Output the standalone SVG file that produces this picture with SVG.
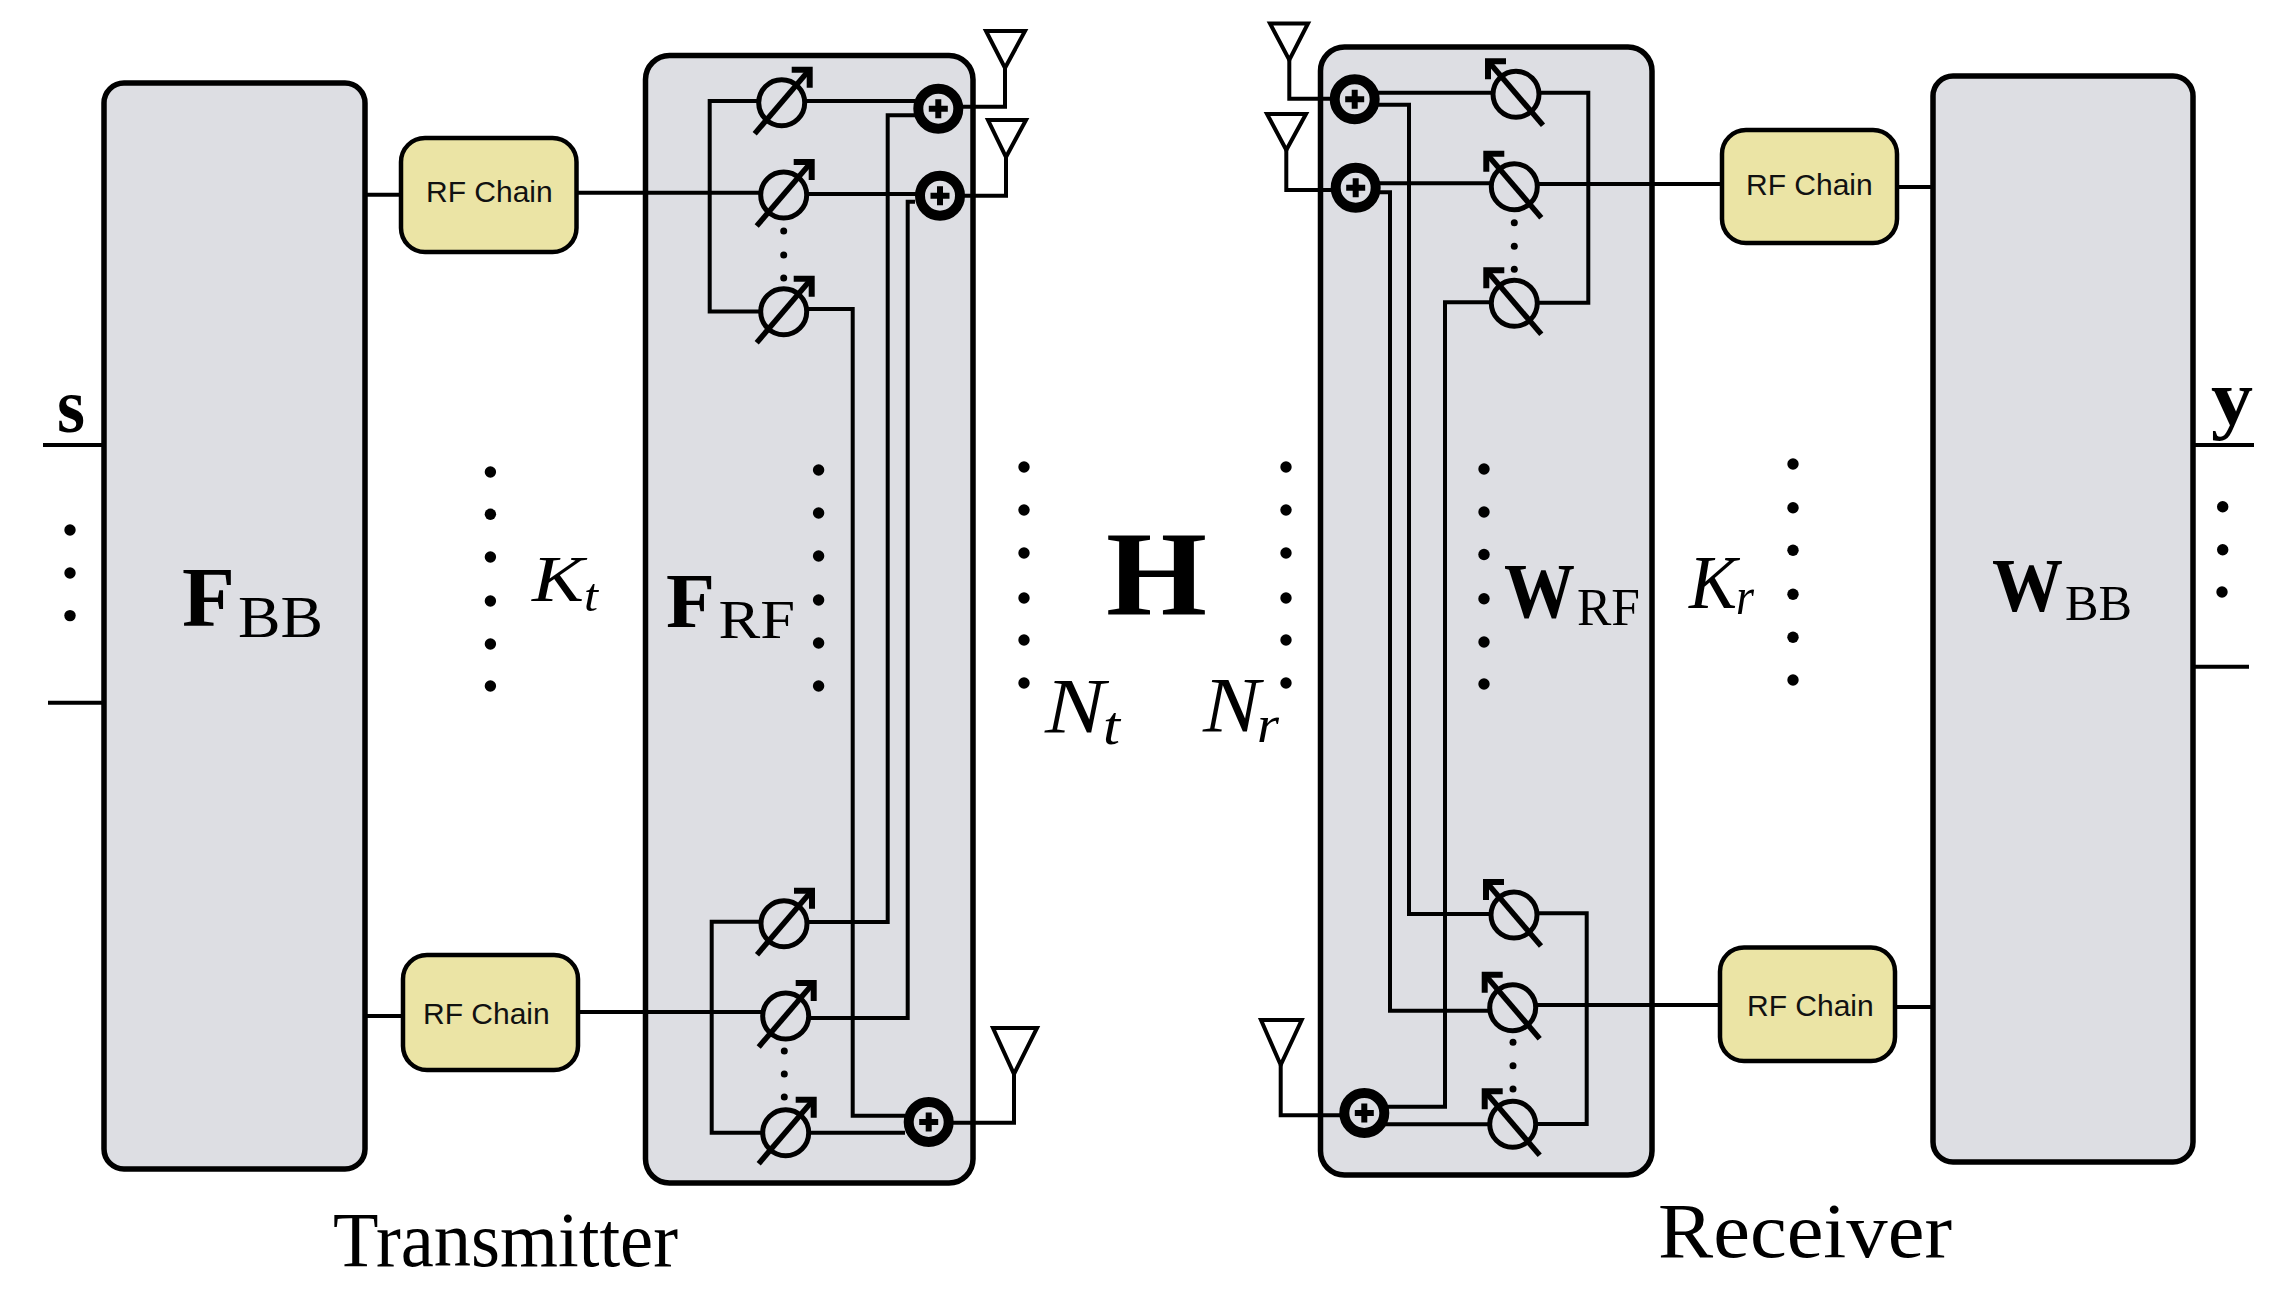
<svg xmlns="http://www.w3.org/2000/svg" xmlns:xlink="http://www.w3.org/1999/xlink" width="2289" height="1292" viewBox="0 0 2289 1292">
<style>
.box{fill:#dddee3;stroke:#000;stroke-width:5.5}
.rf{fill:#ebe4a5;stroke:#000;stroke-width:4.5}
.w{fill:none;stroke:#000;stroke-width:4}
.ant{fill:none;stroke:#000;stroke-width:4;stroke-linejoin:miter}
.rft{font-family:"Liberation Sans",Arial,sans-serif;font-size:30px;fill:#111}
.m{font-family:"Liberation Serif","Times New Roman",serif;fill:#000}
.b{font-weight:bold}
.i{font-style:italic}
.dot{fill:#000}
</style>
<defs>
<g id="shifter">
<circle r="23" fill="#dddee3" stroke="#000" stroke-width="5"/>
<line x1="-27" y1="31" x2="26" y2="-31" stroke="#000" stroke-width="5.5"/>
<polyline points="10,-33 28,-33 28,-15" fill="none" stroke="#000" stroke-width="6"/>
</g>
<g id="summer">
<circle r="20" fill="#dddee3" stroke="#000" stroke-width="10"/>
<path d="M-9.5 0H9.5M0 -9.5V9.5" stroke="#000" stroke-width="6" fill="none"/>
</g>
<circle id="d" r="5.7" class="dot"/>
<circle id="ds" r="3.5" class="dot"/>
</defs>
<rect width="2289" height="1292" fill="#fff"/>
<g id="FBB"><rect class="box" x="104" y="83" width="261" height="1086" rx="20"/></g>
<g id="FRF"><rect class="box" x="645.5" y="55.5" width="327.5" height="1127.5" rx="24"/></g>
<g id="WRF"><rect class="box" x="1320.5" y="47" width="331.5" height="1128" rx="24"/></g>
<g id="WBB"><rect class="box" x="1933" y="76" width="260" height="1086" rx="20"/></g>
<g id="connectors">
<path class="w" d="M43 445H104M48 702.7H104M2193 445H2254M2193 666.7H2249"/>
<path class="w" d="M365 194.7H401M577 192.7H783M366 1016H403M578 1012H785"/>
<path class="w" d="M784 311.5H709.7V101H915M784 309H852.7V1115.7H905M785 1132.7H905"/>
<path class="w" d="M915 115.3H887.7V922H784M940 194H784M915 201.700H907.7V1018H785"/>
<path class="w" d="M785 921.7H711.7V1132.7H785"/>
<path class="w" d="M960 106.7H1005V68M962 195.7H1006V157M950 1122.7H1014V1074"/>
<path class="w" d="M1355 92.7H1588.3V302.7H1514M1375 104.7H1409V914H1514"/>
<path class="w" d="M1289.3 60V98.7H1335M1286.3 150V190H1335M1280.7 1065V1115.3H1345"/>
<path class="w" d="M1356 183.3H1514M1514 184H1722M1375 192.3H1390V1010.7H1512M1514 302.3H1445V1106.7H1380M1364 1124.3H1513"/>
<path class="w" d="M1514 913.3H1586.7V1124H1513M1512 1005H1720M1895 1007H1933M1897 187H1933"/>
</g>
<g id="ant-t1"><polygon class="ant" points="986,31 1025,31 1005,68"/></g>
<g id="ant-t2"><polygon class="ant" points="988,120 1026,120 1006,157"/></g>
<g id="ant-t3"><polygon class="ant" points="993,1028 1037,1028 1014,1074"/></g>
<g id="ant-r1"><polygon class="ant" points="1270,23.5 1308,23.5 1289.3,60"/></g>
<g id="ant-r2"><polygon class="ant" points="1267,114 1306,114 1286.3,150"/></g>
<g id="ant-r3"><polygon class="ant" points="1261,1020 1301.7,1020 1280.7,1065"/></g>
<g id="rf-t1"><rect class="rf" x="401" y="138" width="175.500" height="114" rx="24"/><text class="rft" x="426" y="202">RF Chain</text></g>
<g id="rf-t2"><rect class="rf" x="403" y="955" width="175" height="115" rx="24"/><text class="rft" x="423" y="1024">RF Chain</text></g>
<g id="rf-r1"><rect class="rf" x="1722" y="130" width="175" height="113" rx="24"/><text class="rft" x="1746" y="195">RF Chain</text></g>
<g id="rf-r2"><rect class="rf" x="1720" y="947.5" width="175" height="113.500" rx="24"/><text class="rft" x="1747" y="1016">RF Chain</text></g>
<g id="ps-t1"><use href="#shifter" transform="translate(781.7 102.7)"/></g>
<g id="ps-t2"><use href="#shifter" transform="translate(783.7 195)"/></g>
<g id="ps-t3"><use href="#shifter" transform="translate(783.7 311.7)"/></g>
<g id="ps-t4"><use href="#shifter" transform="translate(784 923.7)"/></g>
<g id="ps-t5"><use href="#shifter" transform="translate(785.7 1016)"/></g>
<g id="ps-t6"><use href="#shifter" transform="translate(785.7 1132.7)"/></g>
<g id="ps-r1"><use href="#shifter" transform="translate(1516 94.3) scale(-1 1)"/></g>
<g id="ps-r2"><use href="#shifter" transform="translate(1514.3 186.7) scale(-1 1)"/></g>
<g id="ps-r3"><use href="#shifter" transform="translate(1514.3 303.3) scale(-1 1)"/></g>
<g id="ps-r4"><use href="#shifter" transform="translate(1514 915) scale(-1 1)"/></g>
<g id="ps-r5"><use href="#shifter" transform="translate(1512.7 1007.7) scale(-1 1)"/></g>
<g id="ps-r6"><use href="#shifter" transform="translate(1512.7 1124.3) scale(-1 1)"/></g>
<g id="sum-t1"><use href="#summer" transform="translate(938.3 108.7)"/></g>
<g id="sum-t2"><use href="#summer" transform="translate(940 195.7)"/></g>
<g id="sum-t3"><use href="#summer" transform="translate(928.7 1122)"/></g>
<g id="sum-r1"><use href="#summer" transform="translate(1354.7 99.3)"/></g>
<g id="sum-r2"><use href="#summer" transform="translate(1355.7 187.7)"/></g>
<g id="sum-r3"><use href="#summer" transform="translate(1364.3 1113)"/></g>
<g id="dots">
<use href="#ds" x="783.7" y="231"/><use href="#ds" x="783.7" y="255"/><use href="#ds" x="783.7" y="278"/>
<use href="#ds" x="784.3" y="1051"/><use href="#ds" x="784.3" y="1074"/><use href="#ds" x="784.3" y="1097"/>
<use href="#ds" x="1514.3" y="222.7"/><use href="#ds" x="1514.3" y="246.3"/><use href="#ds" x="1514.3" y="269.3"/>
<use href="#ds" x="1513" y="1042.3"/><use href="#ds" x="1513" y="1065.7"/><use href="#ds" x="1513" y="1089"/>
<use href="#d" x="70" y="530"/><use href="#d" x="70" y="573"/><use href="#d" x="70" y="615.600"/>
<use href="#d" x="2222.700" y="506.700"/><use href="#d" x="2222.700" y="549.700"/><use href="#d" x="2222" y="592"/>
<use href="#d" x="490.400" y="472"/><use href="#d" x="490.400" y="514.300"/><use href="#d" x="490.400" y="557"/><use href="#d" x="490.400" y="601"/><use href="#d" x="490.400" y="644"/><use href="#d" x="490.400" y="686"/>
<use href="#d" x="818.600" y="470"/><use href="#d" x="818.600" y="513"/><use href="#d" x="818.600" y="556"/><use href="#d" x="818.600" y="600"/><use href="#d" x="818.600" y="643"/><use href="#d" x="818.600" y="686"/>
<use href="#d" x="1024" y="467"/><use href="#d" x="1024" y="510"/><use href="#d" x="1024" y="553"/><use href="#d" x="1024" y="598"/><use href="#d" x="1024" y="640"/><use href="#d" x="1024" y="683"/>
<use href="#d" x="1286" y="467"/><use href="#d" x="1286" y="510"/><use href="#d" x="1286" y="553"/><use href="#d" x="1286" y="598"/><use href="#d" x="1286" y="640"/><use href="#d" x="1286" y="683"/>
<use href="#d" x="1484" y="469"/><use href="#d" x="1484" y="512"/><use href="#d" x="1484" y="554.500"/><use href="#d" x="1484" y="598.700"/><use href="#d" x="1484" y="642"/><use href="#d" x="1484" y="684"/>
<use href="#d" x="1793" y="464"/><use href="#d" x="1793" y="507.700"/><use href="#d" x="1793" y="550.300"/><use href="#d" x="1793" y="594.300"/><use href="#d" x="1793" y="637.300"/><use href="#d" x="1793" y="680"/>
</g>
<g id="labels">
<text class="m b" x="57" y="432" font-size="78" textLength="28" lengthAdjust="spacingAndGlyphs">s</text>
<text class="m b" x="2211" y="424" font-size="78" textLength="42" lengthAdjust="spacingAndGlyphs">y</text>
<text class="m b" x="182" y="626" font-size="85" textLength="53" lengthAdjust="spacingAndGlyphs">F</text>
<text class="m" x="238" y="637" font-size="59" textLength="85" lengthAdjust="spacingAndGlyphs">BB</text>
<text class="m i" x="532" y="600.700" font-size="66" textLength="52" lengthAdjust="spacingAndGlyphs">K</text>
<text class="m i" x="584" y="611" font-size="46" textLength="14" lengthAdjust="spacingAndGlyphs">t</text>
<text class="m b" x="666" y="627" font-size="79" textLength="49" lengthAdjust="spacingAndGlyphs">F</text>
<text class="m" x="718.500" y="638" font-size="54" textLength="76.500" lengthAdjust="spacingAndGlyphs">RF</text>
<text class="m b" x="1106" y="615" font-size="121" textLength="101" lengthAdjust="spacingAndGlyphs">H</text>
<text class="m i" x="1045" y="732" font-size="78" textLength="60" lengthAdjust="spacingAndGlyphs">N</text>
<text class="m i" x="1103" y="744" font-size="55" textLength="17" lengthAdjust="spacingAndGlyphs">t</text>
<text class="m i" x="1203" y="730.700" font-size="78" textLength="57" lengthAdjust="spacingAndGlyphs">N</text>
<text class="m i" x="1257" y="742" font-size="52" textLength="22" lengthAdjust="spacingAndGlyphs">r</text>
<text class="m b" x="1504" y="616.700" font-size="79" textLength="71" lengthAdjust="spacingAndGlyphs">W</text>
<text class="m" x="1577" y="625" font-size="52" textLength="63" lengthAdjust="spacingAndGlyphs">RF</text>
<text class="m i" x="1689" y="608" font-size="77" textLength="48" lengthAdjust="spacingAndGlyphs">K</text>
<text class="m i" x="1736" y="614" font-size="53" textLength="18" lengthAdjust="spacingAndGlyphs">r</text>
<text class="m b" x="1992" y="610.700" font-size="77" textLength="71" lengthAdjust="spacingAndGlyphs">W</text>
<text class="m" x="2065" y="620" font-size="50" textLength="67" lengthAdjust="spacingAndGlyphs">BB</text>
<text class="m" x="333" y="1266" font-size="78" textLength="345" lengthAdjust="spacingAndGlyphs">Transmitter</text>
<text class="m" x="1658" y="1257" font-size="78" textLength="294" lengthAdjust="spacingAndGlyphs">Receiver</text>
</g>
</svg>
